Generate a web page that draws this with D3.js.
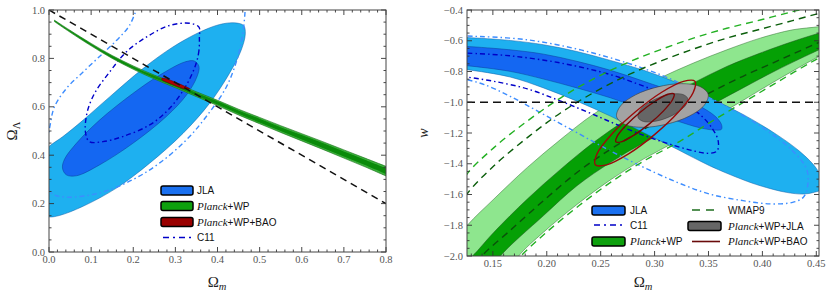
<!DOCTYPE html>
<html><head><meta charset="utf-8">
<script src="https://cdn.jsdelivr.net/npm/d3@7"></script>
<style>body{margin:0;background:#fff}svg{display:block}</style>
</head><body>
<svg id="c" width="830" height="294"></svg>
<script>
// ---------------- DATA ----------------
// Left panel: Omega_m vs Omega_Lambda
const leftXTicks = [0,0.1,0.2,0.3,0.4,0.5,0.6,0.7,0.8];
const leftYTicks = [0,0.2,0.4,0.6,0.8,1.0];
const jlaL95 = [[-0.030,0.162],[-0.042,0.230],[-0.034,0.326],[-0.018,0.401],[0,0.436],[0.033,0.477],[0.081,0.545],[0.144,0.641],[0.223,0.758],[0.294,0.847],[0.357,0.908],[0.405,0.940],[0.440,0.947],[0.462,0.936],[0.466,0.901],[0.456,0.833],[0.428,0.737],[0.381,0.614],[0.318,0.490],[0.239,0.367],[0.160,0.264],[0.081,0.189],[0.025,0.151],[0,0.145]];
const jlaL68 = [[0.032,0.347],[0.041,0.319],[0.065,0.315],[0.120,0.360],[0.199,0.449],[0.278,0.559],[0.326,0.648],[0.351,0.723],[0.356,0.767],[0.345,0.789],[0.322,0.785],[0.262,0.730],[0.199,0.655],[0.120,0.545],[0.065,0.449],[0.037,0.384]];
const c11L68 = [[0.357,0.888],[0.356,0.833],[0.349,0.778],[0.326,0.689],[0.286,0.593],[0.239,0.525],[0.175,0.477],[0.128,0.456],[0.096,0.456],[0.087,0.490],[0.090,0.573],[0.108,0.655],[0.144,0.744],[0.183,0.826],[0.231,0.888],[0.286,0.936],[0.334,0.945],[0.356,0.929]];
const c11L95 = [[0.211,1.02],[0.191,0.936],[0.160,0.874],[0.120,0.808],[0.081,0.744],[0.041,0.675],[0.013,0.600],[0.002,0.518],[-0.006,0.422],[-0.006,0.312],[0.006,0.244],[0.041,0.227],[0.120,0.244],[0.199,0.299],[0.262,0.367],[0.326,0.463],[0.373,0.559],[0.421,0.682],[0.448,0.805],[0.460,0.901],[0.465,0.984],[0.466,1.02]];
const planckLOm   = [0.013,0.05,0.1,0.15,0.2,0.25,0.3,0.35,0.4,0.45,0.5,0.55,0.6,0.65,0.7,0.75,0.8];
const planckL95hi = [0.958,0.916,0.862,0.812,0.769,0.731,0.697,0.662,0.627,0.590,0.556,0.522,0.489,0.456,0.422,0.388,0.354];
const planckL95lo = [0.952,0.908,0.852,0.800,0.755,0.715,0.679,0.642,0.605,0.566,0.530,0.494,0.459,0.424,0.388,0.352,0.314];
const planckL68hi = [0.957,0.914,0.860,0.810,0.766,0.728,0.693,0.658,0.623,0.585,0.551,0.516,0.483,0.450,0.415,0.381,0.346];
const planckL68lo = [0.953,0.910,0.854,0.802,0.758,0.718,0.683,0.646,0.609,0.571,0.535,0.500,0.465,0.430,0.395,0.359,0.322];
const baoL = [[0.268,0.718],[0.285,0.712],[0.305,0.698],[0.322,0.685],[0.334,0.675],[0.322,0.674],[0.300,0.687],[0.280,0.701],[0.268,0.712]];
const flatOm = [0,0.8], flatOL = [1,0.2];

// Right panel: Omega_m vs w
const rightXTicks = [0.15,0.20,0.25,0.30,0.35,0.40,0.45];
const rightYTicks = [-2.0,-1.8,-1.6,-1.4,-1.2,-1.0,-0.8,-0.6,-0.4];
const planckR95hi = [[0.100,-2.03],[0.126,-1.802],[0.151,-1.629],[0.182,-1.424],[0.213,-1.241],[0.243,-1.079],[0.274,-0.950],[0.305,-0.842],[0.336,-0.745],[0.367,-0.659],[0.398,-0.583],[0.428,-0.529],[0.4525,-0.508],[0.465,-0.49]];
const planckR95lo = [[0.168,-2.08],[0.174,-2.0],[0.197,-1.845],[0.228,-1.665],[0.259,-1.505],[0.290,-1.368],[0.321,-1.250],[0.351,-1.118],[0.382,-0.988],[0.413,-0.858],[0.4525,-0.702],[0.465,-0.66]];
const planckR68hi = [[0.122,-2.05],[0.131,-2.0],[0.151,-1.845],[0.182,-1.629],[0.213,-1.435],[0.243,-1.263],[0.274,-1.112],[0.305,-0.982],[0.336,-0.874],[0.367,-0.767],[0.398,-0.680],[0.428,-0.605],[0.4525,-0.551],[0.465,-0.53]];
const planckR68lo = [[0.150,-2.08],[0.157,-2.0],[0.197,-1.737],[0.228,-1.543],[0.259,-1.392],[0.290,-1.263],[0.321,-1.155],[0.351,-1.025],[0.382,-0.907],[0.413,-0.792],[0.4525,-0.659],[0.465,-0.62]];
const wmap95hi = [[0.120,-1.55],[0.126,-1.467],[0.151,-1.295],[0.182,-1.122],[0.213,-0.971],[0.243,-0.849],[0.274,-0.745],[0.305,-0.659],[0.336,-0.583],[0.367,-0.519],[0.398,-0.465],[0.428,-0.411],[0.440,-0.39]];
const wmap68hi = [[0.120,-1.68],[0.126,-1.597],[0.151,-1.413],[0.182,-1.230],[0.213,-1.068],[0.243,-0.939],[0.274,-0.827],[0.305,-0.734],[0.336,-0.654],[0.367,-0.583],[0.398,-0.525],[0.428,-0.469],[0.4525,-0.422],[0.46,-0.41]];
const wmap68lo = [[0.136,-2.05],[0.140,-2.0],[0.166,-1.834],[0.197,-1.640],[0.228,-1.457],[0.259,-1.306],[0.290,-1.176],[0.321,-1.058],[0.351,-0.939],[0.382,-0.831],[0.413,-0.734],[0.4525,-0.611],[0.46,-0.59]];
const wmap95lo = [[0.170,-2.05],[0.176,-2.0],[0.199,-1.85],[0.230,-1.672],[0.261,-1.512],[0.292,-1.374],[0.323,-1.256],[0.353,-1.124],[0.384,-0.994],[0.415,-0.864],[0.4525,-0.712],[0.46,-0.69]];
const jlaR95 = [[0.115,-0.577],[0.126,-0.579],[0.166,-0.598],[0.197,-0.626],[0.228,-0.670],[0.259,-0.728],[0.290,-0.792],[0.321,-0.874],[0.351,-0.971],[0.382,-1.079],[0.413,-1.209],[0.434,-1.316],[0.447,-1.403],[0.4525,-1.457],[0.458,-1.53],[0.456,-1.564],[0.448,-1.586],[0.438,-1.597],[0.422,-1.586],[0.398,-1.543],[0.382,-1.504],[0.351,-1.413],[0.321,-1.306],[0.290,-1.198],[0.259,-1.090],[0.228,-0.993],[0.197,-0.907],[0.166,-0.836],[0.126,-0.788],[0.115,-0.780]];
const jlaR68 = [[0.115,-0.634],[0.126,-0.637],[0.166,-0.659],[0.197,-0.687],[0.228,-0.734],[0.259,-0.792],[0.290,-0.864],[0.321,-0.943],[0.342,-1.025],[0.356,-1.090],[0.362,-1.144],[0.362,-1.176],[0.356,-1.181],[0.342,-1.166],[0.321,-1.122],[0.290,-1.047],[0.259,-0.971],[0.228,-0.907],[0.197,-0.849],[0.166,-0.799],[0.126,-0.762],[0.115,-0.755]];
const c11R68 = [[0.115,-0.675],[0.126,-0.680],[0.166,-0.698],[0.213,-0.745],[0.259,-0.820],[0.290,-0.896],[0.321,-0.982],[0.342,-1.079],[0.354,-1.176],[0.359,-1.252],[0.358,-1.316],[0.350,-1.332],[0.336,-1.316],[0.305,-1.252],[0.274,-1.172],[0.243,-1.079],[0.213,-0.993],[0.182,-0.913],[0.151,-0.864],[0.126,-0.836],[0.115,-0.826]];
const c11R95 = [[0.115,-0.566],[0.126,-0.569],[0.182,-0.594],[0.243,-0.680],[0.305,-0.820],[0.351,-0.971],[0.398,-1.155],[0.428,-1.316],[0.441,-1.435],[0.442,-1.543],[0.438,-1.618],[0.428,-1.651],[0.407,-1.661],[0.382,-1.640],[0.351,-1.597],[0.321,-1.521],[0.290,-1.424],[0.259,-1.316],[0.228,-1.198],[0.197,-1.079],[0.166,-0.961],[0.142,-0.885],[0.126,-0.853],[0.115,-0.835]];
const grayR95 = [[0.3497,-0.948],[0.3461,-1.019],[0.3322,-1.090],[0.3115,-1.142],[0.2897,-1.163],[0.2727,-1.145],[0.2648,-1.094],[0.2684,-1.024],[0.2823,-0.952],[0.3030,-0.900],[0.3248,-0.879],[0.3419,-0.897]];
const grayR68 = [[0.3304,-0.971],[0.3293,-1.014],[0.3223,-1.061],[0.3113,-1.102],[0.2994,-1.125],[0.2896,-1.125],[0.2847,-1.100],[0.2859,-1.059],[0.2929,-1.011],[0.3038,-0.970],[0.3157,-0.947],[0.3255,-0.948]];
const baoR95 = [[0.3375,-0.864],[0.3358,-0.937],[0.3221,-1.064],[0.3002,-1.209],[0.2758,-1.336],[0.2556,-1.407],[0.2450,-1.407],[0.2467,-1.334],[0.2604,-1.206],[0.2823,-1.062],[0.3066,-0.935],[0.3268,-0.864]];
const baoR68 = [[0.3181,-0.946],[0.3166,-0.984],[0.3083,-1.056],[0.2954,-1.139],[0.2813,-1.212],[0.2698,-1.256],[0.2641,-1.258],[0.2655,-1.219],[0.2738,-1.148],[0.2867,-1.065],[0.3008,-0.992],[0.3123,-0.948]];
const lcdmW = [-1.0];

// ---------------- DRAWING ----------------
const svg = d3.select("#c");
const xL = d3.scaleLinear([0,0.8],[49,386]), yL = d3.scaleLinear([0,1],[252,10]);
const xR = d3.scaleLinear([0.126,0.4525],[467,819]), yR = d3.scaleLinear([-2,-0.4],[256,10]);
const SERIF = "'Liberation Serif','DejaVu Serif',serif", SANS = "'Liberation Sans',Arial,sans-serif";

function mkLine(x,y,curve){ return d3.line().x(d=>x(d[0])).y(d=>y(d[1])).curve(curve); }
function closed(x,y,pts){ return mkLine(x,y,d3.curveCatmullRomClosed.alpha(0.5))(pts); }
function open(x,y,pts){ return mkLine(x,y,d3.curveCatmullRom.alpha(0.5))(pts); }
function band(x,y,hi,lo){ return open(x,y,hi) + open(x,y,lo.slice().reverse()).replace(/^M/,"L") + "Z"; }

function makePanel(id,x,y){
  const [x0,x1]=x.range(), [y0,y1]=y.range();
  svg.append("clipPath").attr("id",id).append("rect").attr("x",x0).attr("y",y1).attr("width",x1-x0).attr("height",y0-y1);
  return svg.append("g").attr("clip-path",`url(#${id})`);
}

// ----- Left panel -----
const gL = makePanel("clipL", xL, yL);
gL.append("path").attr("d",closed(xL,yL,jlaL95)).attr("fill","#1EB0F0").attr("stroke","#0E5FA8").attr("stroke-width",0.5);
gL.append("path").attr("d",closed(xL,yL,jlaL68)).attr("fill","#1467F2").attr("stroke","#0B3D99").attr("stroke-width",0.5);
gL.append("path").attr("d",open(xL,yL,c11L95)).attr("fill","none").attr("stroke","#3D8DFF").attr("stroke-width",1.4).attr("stroke-dasharray","5,3,1.5,3");
gL.append("path").attr("d",closed(xL,yL,c11L68)).attr("fill","none").attr("stroke","#0000C8").attr("stroke-width",1.4).attr("stroke-dasharray","5,3,1.5,3");
const areaL = (lo,hi)=>d3.area().x((d,i)=>xL(planckLOm[i])).y0((d,i)=>yL(lo[i])).y1((d,i)=>yL(hi[i])).curve(d3.curveCatmullRom)(planckLOm);
gL.append("path").attr("d",areaL(planckL95lo,planckL95hi)).attr("fill","#3CB03C").attr("stroke","#146E14").attr("stroke-width",0.6);
gL.append("path").attr("d",areaL(planckL68lo,planckL68hi)).attr("fill","#0A8A0A");
gL.append("path").attr("d",closed(xL,yL,baoL)).attr("fill","#B00000").attr("stroke","#600000").attr("stroke-width",0.5);
gL.append("line").attr("x1",xL(flatOm[0])).attr("y1",yL(flatOL[0])).attr("x2",xL(flatOm[1])).attr("y2",yL(flatOL[1]))
  .attr("stroke","#111").attr("stroke-width",1.5).attr("stroke-dasharray","7,5");

// ----- Right panel -----
const gR = makePanel("clipR", xR, yR);
gR.append("path").attr("d",band(xR,yR,planckR95hi,planckR95lo)).attr("fill","#8EE68E").attr("stroke","#2E6E2E").attr("stroke-width",0.5);
gR.append("path").attr("d",band(xR,yR,planckR68hi,planckR68lo)).attr("fill","#05A005").attr("stroke","#1C4F1C").attr("stroke-width",0.5);
gR.append("path").attr("d",closed(xR,yR,jlaR95)).attr("fill","#1EB0F0").attr("stroke","#0E5FA8").attr("stroke-width",0.5);
gR.append("path").attr("d",closed(xR,yR,jlaR68)).attr("fill","#1467F2").attr("stroke","#0B3D99").attr("stroke-width",0.5);
gR.append("path").attr("d",open(xR,yR,c11R95)).attr("fill","none").attr("stroke","#3D8DFF").attr("stroke-width",1.4).attr("stroke-dasharray","5,3,1.5,3");
gR.append("path").attr("d",open(xR,yR,c11R68)).attr("fill","none").attr("stroke","#0000C8").attr("stroke-width",1.4).attr("stroke-dasharray","5,3,1.5,3");
[[wmap95hi,"#22B022"],[wmap95lo,"#22B022"],[wmap68hi,"#0B5E0B"],[wmap68lo,"#0B4F0B"]].forEach(([p,c])=>{
  gR.append("path").attr("d",open(xR,yR,p)).attr("fill","none").attr("stroke",c).attr("stroke-width",1.4).attr("stroke-dasharray","7,5");
});
gR.append("path").attr("d",closed(xR,yR,grayR95)).attr("fill","#A3A3A3").attr("stroke","#3A3A3A").attr("stroke-width",0.6);
gR.append("path").attr("d",closed(xR,yR,grayR68)).attr("fill","#666").attr("stroke","#333").attr("stroke-width",0.5);
gR.append("path").attr("d",closed(xR,yR,baoR95)).attr("fill","none").attr("stroke","#9A0A0A").attr("stroke-width",1.4);
gR.append("path").attr("d",closed(xR,yR,baoR68)).attr("fill","none").attr("stroke","#7A0505").attr("stroke-width",1.4);
gR.append("line").attr("x1",xR.range()[0]).attr("x2",xR.range()[1]).attr("y1",yR(lcdmW[0])).attr("y2",yR(lcdmW[0]))
  .attr("stroke","#111").attr("stroke-width",1.6).attr("stroke-dasharray","8,5");

// ----- Frames and ticks -----
function frame(x,y,xmaj,xminStep,ymaj,yminStep,xfmt,yfmt,xlabY,ylabX){
  const [x0,x1]=x.range(), [y0,y1]=y.range();
  const g=svg.append("g");
  const [dx0,dx1]=x.domain(), [dy0,dy1]=y.domain();
  const xmin=d3.range(Math.ceil(dx0/xminStep-1e-6)*xminStep, dx1+1e-9, xminStep);
  const ymin=d3.range(Math.ceil(dy0/yminStep-1e-6)*yminStep, dy1+1e-9, yminStep);
  const isMaj=(v,arr)=>arr.some(a=>Math.abs(a-v)<1e-6);
  xmin.forEach(v=>{ const L=isMaj(v,xmaj)?5:2.5, px=x(v);
    g.append("line").attr("x1",px).attr("x2",px).attr("y1",y0).attr("y2",y0-L);
    g.append("line").attr("x1",px).attr("x2",px).attr("y1",y1).attr("y2",y1+L); });
  ymin.forEach(v=>{ const L=isMaj(v,ymaj)?5:2.5, py=y(v);
    g.append("line").attr("y1",py).attr("y2",py).attr("x1",x0).attr("x2",x0+L);
    g.append("line").attr("y1",py).attr("y2",py).attr("x1",x1).attr("x2",x1-L); });
  g.selectAll("line").attr("stroke","#333").attr("stroke-width",0.9);
  g.append("rect").attr("x",x0).attr("y",y1).attr("width",x1-x0).attr("height",y0-y1).attr("fill","none").attr("stroke","#444").attr("stroke-width",1);
  xmaj.forEach(v=>g.append("text").attr("x",x(v)).attr("y",xlabY).attr("text-anchor","middle").text(xfmt(v)));
  ymaj.forEach(v=>g.append("text").attr("x",ylabX).attr("y",y(v)).attr("dy","0.35em").attr("text-anchor","end").text(yfmt(v)));
  g.selectAll("text").attr("font-family",SERIF).attr("font-size",10.5).attr("fill","#555");
}
frame(xL,yL,leftXTicks,0.02,leftYTicks,0.05,d3.format(".1f"),d3.format(".1f"),263,45);
frame(xR,yR,rightXTicks,0.01,rightYTicks,0.05,d3.format(".2f"),d3.format(".1f"),267,463);

// ----- Axis titles -----
function omegaTitle(x,y,sub,italicSub){
  const t=svg.append("text").attr("x",x).attr("y",y).attr("text-anchor","middle").attr("font-family",SERIF).attr("font-size",15).attr("fill","#222");
  t.append("tspan").text("Ω");
  t.append("tspan").attr("font-size",10.5).attr("dy",3).attr("font-style",italicSub?"italic":"normal").text(sub);
  return t;
}
omegaTitle(217,287,"m",true);
omegaTitle(643,287,"m",true);
omegaTitle(0,0,"Λ",false).attr("transform","translate(17,131) rotate(-90)");
svg.append("text").attr("transform","translate(428,133) rotate(-90)").attr("text-anchor","middle")
  .attr("font-family",SERIF).attr("font-style","italic").attr("font-size",14).attr("fill","#222").text("w");

// ----- Legends -----
function legendText(x,y,parts){
  const t=svg.append("text").attr("x",x).attr("y",y).attr("fill","#111");
  parts.forEach(p=>{ const s=t.append("tspan").text(p.t);
    if(p.it){ s.attr("font-family",SERIF).attr("font-style","italic").attr("font-size",11);} else { s.attr("font-family",SANS).attr("font-size",10);} });
}
function swatch(x,cy,w,fill){ svg.append("rect").attr("x",x).attr("y",cy-4.5).attr("width",w).attr("height",9).attr("rx",2)
  .attr("fill",fill).attr("stroke","#000").attr("stroke-width",1.5); }
function legLine(x,cy,w,color,dash){ svg.append("line").attr("x1",x).attr("x2",x+w).attr("y1",cy).attr("y2",cy)
  .attr("stroke",color).attr("stroke-width",1.6).attr("stroke-dasharray",dash); }

// left legend
swatch(161,190.5,32,"#1A70F0"); legendText(197,194,[{t:"JLA"}]);
swatch(161,206,32,"#0EA00E");   legendText(197,209.5,[{t:"Planck",it:1},{t:"+WP"}]);
swatch(161,222,32,"#990000");   legendText(197,225.5,[{t:"Planck",it:1},{t:"+WP+BAO"}]);
legLine(163,237.5,28,"#0000C8","6,4,2,4"); legendText(197,241,[{t:"C11"}]);

// right legend
swatch(592,210.5,33,"#1A70F0"); legendText(630,214,[{t:"JLA"}]);
legLine(594,225,30,"#0000C8","6,4,2,4"); legendText(630,228.5,[{t:"C11"}]);
swatch(592,241.5,33,"#0EA00E"); legendText(630,245,[{t:"Planck",it:1},{t:"+WP"}]);
legLine(692,210,28,"#1E6E1E","8,6"); legendText(728,214,[{t:"WMAP9"}]);
swatch(688,226,33,"#666666"); legendText(728,229.5,[{t:"Planck",it:1},{t:"+WP+JLA"}]);
legLine(692,241.5,28,"#6A0A0A",null); legendText(728,245,[{t:"Planck",it:1},{t:"+WP+BAO"}]);
</script>
</body></html>
